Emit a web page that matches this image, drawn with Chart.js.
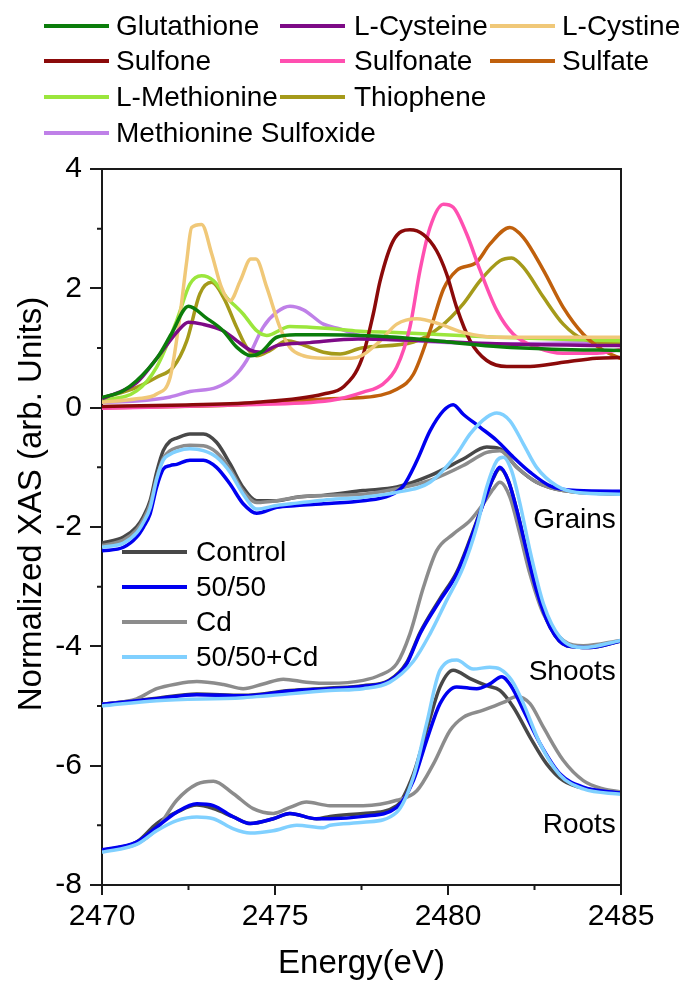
<!DOCTYPE html>
<html>
<head>
<meta charset="utf-8">
<script src="https://cdn.jsdelivr.net/npm/chart.js@4.4.1/dist/chart.umd.min.js"></script>
<style>
  html, body { margin: 0; padding: 0; background: #fff; }
  #wrap { position: relative; width: 683px; height: 981px; font-family: "Liberation Sans", Arial, sans-serif; color: #000; }
  #c { position: absolute; left: 0; top: 0; }
  .key { position: absolute; height: 4px; }
  .lbl { position: absolute; font-size: 28px; line-height: 32px; white-space: nowrap; }
</style>
</head>
<body>
<div id="wrap">
  <canvas id="c" width="683" height="981"></canvas>
  <div id="legendTop"></div>
  <div id="legendIn"></div>
</div>
<script>
// Axis ticks
const xTicks = [2470, 2475, 2480, 2485];
const xMinor = [2472.5, 2477.5, 2482.5];
const yTicks = [4, 2, 0, -2, -4, -6, -8];
const yMinor = [3, 1, -1, -3, -5, -7];

// Reference compounds: [energy (eV), normalized absorbance]
const glutathione = [[2470,0.17],[2470.6,0.28],[2471,0.45],[2471.6,0.84],[2472,1.23],[2472.5,1.70],[2473,1.51],[2473.5,1.29],[2473.9,1.01],[2474.3,0.87],[2474.6,0.93],[2475.05,1.18],[2475.6,1.22],[2476.4,1.22],[2477.5,1.21],[2478.5,1.18],[2480,1.10],[2481.5,1.02],[2483,0.98],[2485,0.96]];
const lCysteine = [[2470,0.15],[2471,0.42],[2471.6,0.84],[2472.2,1.29],[2472.5,1.43],[2472.9,1.40],[2473.5,1.29],[2473.9,1.12],[2474.3,0.96],[2474.6,0.93],[2475.05,1.04],[2476,1.09],[2477.4,1.15],[2479,1.13],[2481.4,1.07],[2485,1.04]];
const lCystine = [[2470,0.09],[2471,0.15],[2471.58,0.23],[2471.97,0.51],[2472.21,1.35],[2472.45,2.46],[2472.59,3.02],[2472.88,3.07],[2473.17,2.58],[2473.45,2.02],[2473.7,1.79],[2474.0,2.13],[2474.3,2.49],[2474.45,2.49],[2474.76,2.02],[2475.14,1.35],[2475.43,1.01],[2475.82,0.87],[2476.4,0.83],[2477.2,0.83],[2477.5,0.87],[2478.04,1.12],[2478.52,1.40],[2479.1,1.49],[2479.77,1.40],[2480.44,1.26],[2481.41,1.18],[2485,1.18]];
const sulfone = [[2470,0.02],[2472,0.04],[2474.47,0.09],[2476.4,0.23],[2477.0,0.36],[2477.5,0.80],[2477.84,1.57],[2478.04,2.13],[2478.42,2.80],[2478.9,2.98],[2479.29,2.90],[2479.67,2.63],[2479.96,2.24],[2480.25,1.68],[2480.64,1.12],[2481.12,0.79],[2481.7,0.69],[2482.37,0.69],[2483.33,0.76],[2484.3,0.83],[2485,0.84]];
const sulfonate = [[2470,-0.01],[2474,0.05],[2476.6,0.12],[2477.55,0.26],[2478.13,0.40],[2478.52,0.68],[2478.9,1.35],[2479.19,2.30],[2479.48,3.02],[2479.87,3.41],[2480.15,3.36],[2480.54,2.91],[2480.93,2.30],[2481.41,1.63],[2481.89,1.23],[2482.56,1.01],[2483.33,0.91],[2484.3,0.91],[2485,0.98]];
const sulfate = [[2470,0.0],[2474,0.05],[2476.6,0.15],[2477.55,0.17],[2478.52,0.31],[2479.0,0.56],[2479.48,1.29],[2479.87,1.99],[2480.25,2.30],[2480.83,2.44],[2481.21,2.74],[2481.79,3.02],[2482.18,2.85],[2482.76,2.30],[2483.33,1.68],[2483.91,1.23],[2484.49,0.96],[2485,0.82]];
const lMethionine = [[2470,0.12],[2471,0.28],[2471.58,0.68],[2472.16,1.46],[2472.54,2.07],[2472.88,2.21],[2473.22,2.13],[2473.6,1.85],[2474.08,1.57],[2474.47,1.29],[2474.76,1.21],[2475.43,1.36],[2475.91,1.35],[2476.88,1.31],[2477.46,1.28],[2478.5,1.26],[2481.4,1.18],[2485,1.12]];
const thiophene = [[2470,0.16],[2471,0.34],[2471.58,0.51],[2472.06,0.68],[2472.45,1.12],[2472.83,1.91],[2473.17,2.10],[2473.51,1.85],[2473.89,1.35],[2474.18,1.01],[2474.47,0.87],[2474.86,0.96],[2475.34,1.12],[2475.72,1.07],[2476.4,0.93],[2476.88,0.90],[2477.5,1.00],[2479,1.10],[2479.77,1.35],[2480.44,1.74],[2480.93,2.13],[2481.5,2.46],[2481.84,2.51],[2482.18,2.35],[2482.76,1.85],[2483.33,1.40],[2483.91,1.15],[2485,1.07]];
const metSulfoxide = [[2470,0.09],[2471,0.11],[2471.97,0.18],[2472.54,0.27],[2473.31,0.34],[2473.8,0.51],[2474.18,0.79],[2474.66,1.35],[2475.05,1.60],[2475.43,1.70],[2475.82,1.64],[2476.4,1.40],[2476.88,1.32],[2477.5,1.20],[2479,1.12],[2481.4,1.07],[2485,1.10]];

// Grains
const grainsControl = [[2470,-2.27],[2470.62,-2.17],[2471,-2.0],[2471.2,-1.82],[2471.39,-1.56],[2471.58,-1.08],[2471.77,-0.72],[2471.97,-0.56],[2472.16,-0.51],[2472.54,-0.44],[2472.93,-0.44],[2473.31,-0.58],[2473.7,-0.94],[2474.08,-1.34],[2474.47,-1.56],[2475.05,-1.56],[2475.63,-1.50],[2476.4,-1.47],[2477.55,-1.39],[2478.52,-1.33],[2479.48,-1.14],[2480.44,-0.86],[2481.12,-0.66],[2481.5,-0.69],[2481.99,-1.0],[2482.56,-1.25],[2483.33,-1.39],[2485,-1.45]];
const grains5050 = [[2470,-2.40],[2470.62,-2.34],[2471,-2.17],[2471.2,-2.0],[2471.39,-1.78],[2471.58,-1.33],[2471.77,-1.03],[2471.97,-0.97],[2472.16,-0.95],[2472.54,-0.88],[2472.93,-0.88],[2473.31,-1.0],[2473.7,-1.28],[2474.08,-1.61],[2474.47,-1.77],[2475.05,-1.67],[2475.63,-1.64],[2476.4,-1.61],[2477.55,-1.56],[2478.32,-1.47],[2478.71,-1.31],[2479.1,-0.89],[2479.48,-0.39],[2479.87,-0.05],[2480.15,0.05],[2480.44,-0.11],[2480.93,-0.33],[2481.41,-0.55],[2481.89,-0.83],[2482.37,-1.08],[2482.95,-1.31],[2483.72,-1.39],[2485,-1.40]];
const grainsCd = [[2470,-2.31],[2470.62,-2.22],[2471,-2.05],[2471.2,-1.87],[2471.39,-1.62],[2471.58,-1.18],[2471.77,-0.85],[2471.97,-0.72],[2472.16,-0.67],[2472.54,-0.63],[2472.93,-0.64],[2473.31,-0.75],[2473.7,-1.03],[2474.08,-1.40],[2474.47,-1.59],[2475.05,-1.56],[2475.63,-1.50],[2476.4,-1.47],[2477.55,-1.45],[2478.52,-1.36],[2479.48,-1.22],[2480.44,-0.97],[2481.12,-0.75],[2481.5,-0.72],[2481.99,-1.0],[2482.56,-1.25],[2483.33,-1.39],[2485,-1.45]];
const grains5050Cd = [[2470,-2.34],[2470.62,-2.27],[2471,-2.1],[2471.2,-1.92],[2471.39,-1.68],[2471.58,-1.20],[2471.77,-0.88],[2471.97,-0.78],[2472.16,-0.73],[2472.54,-0.69],[2472.93,-0.72],[2473.31,-0.83],[2473.7,-1.08],[2474.08,-1.45],[2474.47,-1.70],[2475.05,-1.64],[2475.63,-1.60],[2476.4,-1.55],[2477.55,-1.50],[2478.52,-1.42],[2479.48,-1.25],[2480.25,-0.78],[2480.64,-0.44],[2481.12,-0.16],[2481.41,-0.09],[2481.79,-0.22],[2482.18,-0.61],[2482.56,-1.0],[2483.14,-1.31],[2483.72,-1.42],[2485,-1.45]];

// Shoots
const shootsControl = [[2470,-4.97],[2471.58,-4.87],[2472.74,-4.80],[2474.08,-4.82],[2475.43,-4.74],[2476.59,-4.70],[2477.55,-4.66],[2478.3,-4.57],[2478.8,-4.28],[2479.2,-3.76],[2479.77,-3.20],[2480.25,-2.76],[2480.64,-2.20],[2481.02,-1.60],[2481.31,-1.18],[2481.5,-1.02],[2481.74,-1.22],[2481.99,-1.72],[2482.27,-2.40],[2482.56,-3.07],[2482.95,-3.68],[2483.43,-3.99],[2484.1,-4.02],[2485,-3.91]];
const shoots5050 = [[2470,-4.97],[2471.58,-4.88],[2472.74,-4.81],[2474.08,-4.83],[2475.43,-4.75],[2476.59,-4.71],[2477.55,-4.67],[2478.3,-4.58],[2478.8,-4.30],[2479.2,-3.78],[2479.77,-3.23],[2480.25,-2.79],[2480.64,-2.23],[2481.02,-1.61],[2481.31,-1.17],[2481.5,-1.0],[2481.74,-1.22],[2481.99,-1.72],[2482.27,-2.40],[2482.56,-3.07],[2482.95,-3.68],[2483.43,-3.99],[2484.1,-4.02],[2485,-3.91]];
const shootsCd = [[2470,-4.97],[2471,-4.88],[2471.58,-4.71],[2472.16,-4.63],[2472.74,-4.59],[2473.51,-4.64],[2474.08,-4.71],[2474.66,-4.63],[2475.24,-4.55],[2475.91,-4.60],[2476.59,-4.62],[2477.55,-4.57],[2478.04,-4.48],[2478.52,-4.29],[2478.9,-3.79],[2479.29,-3.01],[2479.67,-2.40],[2480.15,-2.12],[2480.64,-1.89],[2481.02,-1.61],[2481.31,-1.36],[2481.5,-1.25],[2481.79,-1.50],[2482.08,-2.12],[2482.37,-2.79],[2482.76,-3.46],[2483.33,-3.90],[2483.91,-3.99],[2485,-3.90]];
const shoots5050Cd = [[2470,-5.0],[2471.58,-4.91],[2474.08,-4.86],[2476.59,-4.74],[2477.55,-4.71],[2478.32,-4.60],[2479.0,-4.25],[2479.48,-3.79],[2479.96,-3.23],[2480.44,-2.67],[2480.83,-2.0],[2481.12,-1.33],[2481.41,-0.89],[2481.6,-0.83],[2481.84,-1.06],[2482.08,-1.61],[2482.37,-2.40],[2482.76,-3.29],[2483.24,-3.85],[2483.91,-4.02],[2485,-3.90]];

// Roots
const rootsControl = [[2470,-7.42],[2471,-7.28],[2471.58,-6.97],[2472.16,-6.78],[2472.74,-6.66],[2473.22,-6.72],[2473.8,-6.86],[2474.28,-6.97],[2474.95,-6.89],[2475.43,-6.80],[2476.2,-6.89],[2476.59,-6.85],[2477.55,-6.80],[2478.52,-6.67],[2479.0,-6.14],[2479.38,-5.41],[2479.77,-4.68],[2480.15,-4.40],[2480.64,-4.54],[2481.12,-4.66],[2481.5,-4.74],[2481.89,-5.02],[2482.37,-5.52],[2482.85,-5.97],[2483.33,-6.25],[2484.01,-6.39],[2485,-6.46]];
const roots5050 = [[2470,-7.41],[2471,-7.28],[2471.58,-7.03],[2472.16,-6.78],[2472.74,-6.64],[2473.22,-6.67],[2473.8,-6.86],[2474.28,-6.97],[2474.95,-6.89],[2475.43,-6.80],[2476.2,-6.89],[2476.59,-6.89],[2477.55,-6.85],[2478.52,-6.70],[2479.0,-6.25],[2479.38,-5.58],[2479.77,-4.96],[2480.25,-4.68],[2480.83,-4.71],[2481.21,-4.63],[2481.55,-4.51],[2481.84,-4.68],[2482.18,-5.07],[2482.66,-5.63],[2483.24,-6.14],[2483.91,-6.36],[2485,-6.46]];
const rootsCd = [[2470,-7.42],[2471,-7.31],[2471.58,-7.06],[2472.16,-6.58],[2472.74,-6.31],[2473.22,-6.26],[2473.8,-6.47],[2474.37,-6.72],[2474.95,-6.80],[2475.43,-6.70],[2475.91,-6.61],[2476.59,-6.67],[2477.55,-6.67],[2478.52,-6.58],[2479.1,-6.42],[2479.58,-5.97],[2480.06,-5.41],[2480.44,-5.19],[2481.02,-5.07],[2481.6,-4.94],[2481.99,-4.84],[2482.37,-4.96],[2482.76,-5.36],[2483.33,-5.91],[2483.91,-6.25],[2484.49,-6.39],[2485,-6.44]];
const roots5050Cd = [[2470,-7.45],[2471,-7.32],[2471.58,-7.09],[2472.16,-6.92],[2472.74,-6.86],[2473.22,-6.89],[2473.8,-7.06],[2474.28,-7.13],[2474.95,-7.09],[2475.63,-7.0],[2476.4,-7.04],[2476.59,-7.0],[2477.55,-6.95],[2478.52,-6.78],[2479.0,-6.19],[2479.38,-5.30],[2479.77,-4.40],[2480.25,-4.23],[2480.73,-4.38],[2481.21,-4.35],[2481.5,-4.38],[2481.84,-4.57],[2482.18,-4.96],[2482.66,-5.63],[2483.24,-6.16],[2483.91,-6.39],[2485,-6.48]];

// Legend entries, colours and their grid slots (column, row)
const refNames = ['Glutathione','L-Cysteine','L-Cystine','Sulfone','Sulfonate','Sulfate','L-Methionine','Thiophene','Methionine Sulfoxide'];
const refColors = ['#0b7d0b','#7d0a86','#f0c878','#8b0a0a','#ff4fb0','#c0600c','#9be63c','#a59a1a','#bf80e8'];
const refLegendCol = [0, 1, 2, 0, 1, 2, 0, 1, 0];
const refLegendRow = [0, 0, 0, 1, 1, 1, 2, 2, 3];
const refSeries = [glutathione, lCysteine, lCystine, sulfone, sulfonate, sulfate, lMethionine, thiophene, metSulfoxide];

const treatNames = ['Control','50/50','Cd','50/50+Cd'];
const treatColors = ['#484848','#0000f0','#8c8c8c','#80d0ff'];
const tissueLabels = [['Grains', -2.01], ['Shoots', -4.57], ['Roots', -7.13]];

const FONT = '"Liberation Sans", Arial, sans-serif';
const toXY = arr => arr.map(p => ({x: p[0], y: p[1]}));

const datasets = [];
// sample spectra (first listed is drawn on top)
const sampleSets = [
  [grains5050Cd, shoots5050Cd, roots5050Cd, 3],
  [grains5050, shoots5050, roots5050, 1],
  [grainsCd, shootsCd, rootsCd, 2],
  [grainsControl, shootsControl, rootsControl, 0]
];
sampleSets.forEach(s => {
  for (let k = 0; k < 3; k++) {
    datasets.push({ label: treatNames[s[3]], data: toXY(s[k]), borderColor: treatColors[s[3]] });
  }
});
refSeries.forEach((ser, i) => {
  datasets.push({ label: refNames[i], data: toXY(ser), borderColor: refColors[i] });
});

const decor = {
  id: 'decor',
  afterDraw(chart) {
    const {ctx, chartArea: a, scales: {x, y}} = chart;
    ctx.save();
    ctx.strokeStyle = '#1a1a1a';
    ctx.lineWidth = 2;
    ctx.beginPath();
    ctx.moveTo(a.left, a.top);
    ctx.lineTo(a.right, a.top);
    ctx.lineTo(a.right, a.bottom);
    ctx.stroke();
    ctx.beginPath();
    xMinor.forEach(v => { const px = x.getPixelForValue(v); ctx.moveTo(px, a.bottom); ctx.lineTo(px, a.bottom + 5); });
    yMinor.forEach(v => { const py = y.getPixelForValue(v); ctx.moveTo(a.left, py); ctx.lineTo(a.left - 5, py); });
    ctx.stroke();

    ctx.fillStyle = '#000';
    ctx.font = '33px ' + FONT;
    ctx.textAlign = 'center';
    ctx.textBaseline = 'alphabetic';
    ctx.fillText('Energy(eV)', (a.left + a.right) / 2, 973);
    ctx.save();
    ctx.translate(41, 504);
    ctx.rotate(-Math.PI / 2);
    ctx.fillText('Normalized XAS (arb. Units)', 0, 0);
    ctx.restore();

    ctx.font = '28px ' + FONT;
    ctx.textAlign = 'right';
    tissueLabels.forEach(t => {
      ctx.fillText(t[0], x.getPixelForValue(2484.85), y.getPixelForValue(t[1]));
    });
    ctx.restore();
  }
};

new Chart(document.getElementById('c'), {
  type: 'line',
  data: { datasets },
  options: {
    responsive: false,
    animation: false,
    devicePixelRatio: 1,
    layout: { padding: { top: 169, right: 62, left: 0, bottom: 0 } },
    plugins: { legend: { display: false }, tooltip: { enabled: false } },
    elements: {
      point: { radius: 0 },
      line: { borderWidth: 3.5, cubicInterpolationMode: 'monotone', fill: false }
    },
    scales: {
      x: {
        type: 'linear', min: 2470, max: 2485,
        afterBuildTicks: s => { s.ticks = xTicks.map(v => ({ value: v })); },
        afterFit: s => { s.height = 96; },
        border: { color: '#1a1a1a', width: 2 },
        grid: { drawOnChartArea: false, drawTicks: true, tickLength: 10, color: '#1a1a1a', lineWidth: 2 },
        ticks: { color: '#000', font: { family: FONT, size: 30 }, padding: 4, maxRotation: 0, autoSkip: false, callback: v => String(v) }
      },
      y: {
        type: 'linear', min: -8, max: 4,
        afterBuildTicks: s => { s.ticks = yTicks.map(v => ({ value: v })); },
        afterFit: s => { s.width = 102; },
        border: { color: '#1a1a1a', width: 2 },
        grid: { drawOnChartArea: false, drawTicks: true, tickLength: 12, color: '#1a1a1a', lineWidth: 2 },
        ticks: { color: '#000', font: { family: FONT, size: 30 }, padding: 8, autoSkip: false, callback: v => String(v) }
      }
    }
  },
  plugins: [decor]
});

// Legend blocks
function addItem(parent, name, color, lineX, lineW, textX, cy) {
  const k = document.createElement('div');
  k.className = 'key';
  k.style.left = lineX + 'px';
  k.style.width = lineW + 'px';
  k.style.top = (cy - 2) + 'px';
  k.style.background = color;
  parent.appendChild(k);
  const t = document.createElement('div');
  t.className = 'lbl';
  t.style.left = textX + 'px';
  t.style.top = (cy - 16) + 'px';
  t.textContent = name;
  parent.appendChild(t);
}
const topLegend = document.getElementById('legendTop');
const colLine = [44, 280, 490];
const colText = [116, 354, 562];
const rowY = [26, 61, 97, 133];
refNames.forEach((n, i) => {
  const c = refLegendCol[i], r = refLegendRow[i];
  addItem(topLegend, n, refColors[i], colLine[c], 65, colText[c], rowY[r]);
});
const inLegend = document.getElementById('legendIn');
const inRowY = [552, 587, 622, 657];
treatNames.forEach((n, i) => {
  addItem(inLegend, n, treatColors[i], 122, 65, 196, inRowY[i]);
});
</script>
</body>
</html>
